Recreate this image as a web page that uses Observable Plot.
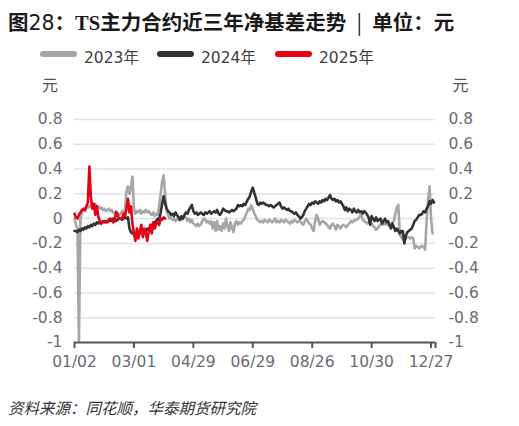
<!DOCTYPE html>
<html>
<head>
<meta charset="utf-8">
<script src="https://cdn.jsdelivr.net/npm/d3@7"></script>
<script src="https://cdn.jsdelivr.net/npm/@observablehq/plot@0.6"></script>
<style>
  html, body { margin: 0; padding: 0; background: #fff; }
  #wrap { position: relative; width: 519px; height: 426px; overflow: hidden; background: #fff; }
  #chart { position: absolute; left: 0; top: 70px; }
  #overlay { position: absolute; left: 0; top: 0; }
</style>
</head>
<body>
<div id="wrap">
  <svg id="overlay" width="519" height="426" xmlns="http://www.w3.org/2000/svg">
    <text x="8" y="29.5" font-size="20.5" font-weight="bold" fill="#1a1a1a" font-family="'Noto Sans CJK SC', 'DejaVu Sans', sans-serif">图<tspan font-weight="normal" font-family="'DejaVu Sans'">28</tspan>：<tspan font-family="'Liberation Serif', serif">TS</tspan>主力合约近三年净基差走势<tspan font-weight="normal">&#8194;|&#8194;</tspan>单位：元</text>
    <g id="legend" font-family="'DejaVu Sans', 'Noto Sans CJK SC', sans-serif" font-size="15.5" fill="#404040"></g>
    <text x="42" y="90.5" font-size="16" fill="#555" font-family="'Noto Sans CJK SC', sans-serif">元</text>
    <text x="452.5" y="90.5" font-size="16" fill="#555" font-family="'Noto Sans CJK SC', sans-serif">元</text>
    <text x="8" y="413.5" font-size="15.5" font-style="italic" fill="#333" font-family="'Noto Sans CJK SC', sans-serif">资料来源：同花顺，华泰期货研究院</text>
  </svg>
  <div id="chart"></div>
</div>
<script>
// ---- data (x = trading-day index) ----
const seriesNames = ["2023年", "2024年", "2025年"];
const seriesColors = ["#a6a6a6", "#333333", "#e60012"];

const xTickIdx = [0, 40, 80, 120, 160, 200, 240, 243];
const xTickLabels = ["01/02", "03/01", "04/29", "06/29", "08/26", "10/30", "12/27", ""];
const yTicks = [-1, -0.8, -0.6, -0.4, -0.2, 0, 0.2, 0.4, 0.6, 0.8];
const gridVals = [-0.8, -0.6, -0.4, -0.2, 0, 0.2, 0.4, 0.6, 0.8];

const y2023 = [
  0.0,-0.05,-0.08,-0.99,0.0,0.05,0.07,0.06,0.08,0.10,0.09,
  0.11,0.10,0.08,0.12,0.09,0.10,0.08,0.09,0.07,0.08,
  0.06,0.07,0.08,0.06,0.07,0.05,0.04,0.06,0.05,0.03,
  0.04,0.06,0.05,0.08,0.22,0.26,0.20,0.25,0.34,0.08,
  0.04,0.06,0.05,0.07,0.04,0.06,0.05,0.07,0.05,0.06,
  0.04,0.03,0.05,0.02,0.04,0.03,0.10,0.20,0.30,0.35,
  0.20,0.06,0.03,0.0,0.01,-0.01,0.0,-0.02,0.0,-0.01,
  0.01,-0.01,0.0,0.02,0.01,-0.02,0.0,-0.03,-0.01,-0.04,
  -0.05,-0.06,-0.04,-0.06,-0.05,-0.02,0.0,-0.01,-0.03,-0.02,
  -0.04,-0.02,-0.08,-0.03,-0.10,-0.02,-0.09,-0.06,-0.10,-0.04,
  -0.08,0.0,-0.06,-0.10,-0.03,-0.07,-0.11,-0.04,-0.02,-0.05,
  -0.03,-0.04,-0.02,-0.01,0.02,0.05,0.08,0.07,0.11,0.08,
  0.04,0.02,-0.01,-0.02,-0.03,-0.02,-0.03,-0.01,-0.02,-0.03,
  -0.01,-0.02,-0.03,-0.02,0.0,-0.03,-0.02,-0.03,-0.01,-0.02,
  -0.03,-0.01,-0.02,-0.03,-0.04,-0.02,-0.03,-0.01,-0.02,-0.03,
  -0.02,-0.02,-0.04,-0.05,-0.02,0.0,-0.02,-0.04,-0.05,-0.08,
  -0.10,-0.02,0.03,0.0,-0.05,-0.03,-0.02,-0.03,-0.04,-0.05,
  -0.07,-0.08,-0.05,-0.04,-0.06,-0.09,-0.05,-0.06,-0.08,-0.06,
  -0.05,-0.06,-0.07,-0.05,-0.04,-0.02,-0.03,-0.02,-0.01,-0.01,
  0.0,0.02,0.03,-0.01,-0.02,-0.03,-0.04,-0.03,-0.02,-0.04,
  -0.06,-0.07,-0.09,-0.08,-0.06,-0.05,-0.04,-0.05,-0.04,-0.05,
  -0.05,-0.06,-0.05,-0.03,-0.02,0.04,0.09,0.11,-0.13,-0.15,
  -0.17,-0.16,-0.16,-0.15,-0.15,-0.16,-0.15,-0.16,-0.24,-0.22,
  -0.23,-0.24,-0.23,-0.22,-0.23,-0.25,-0.02,0.15,0.26,0.0,-0.12
];

const y2024 = [
  -0.10,-0.10,-0.11,-0.09,-0.10,-0.08,-0.09,-0.07,-0.08,-0.06,-0.07,
  -0.05,-0.06,-0.04,-0.05,-0.03,-0.04,-0.03,-0.04,-0.02,-0.03,
  -0.02,-0.03,-0.01,-0.02,-0.01,0.0,-0.01,-0.02,-0.01,0.0,
  0.0,-0.01,0.0,0.01,0.0,0.01,-0.08,-0.11,-0.12,-0.11,
  -0.12,-0.12,-0.11,-0.12,-0.10,-0.11,-0.09,-0.10,-0.08,-0.09,
  -0.07,-0.05,-0.06,-0.03,-0.02,0.0,-0.01,0.05,0.12,0.18,
  0.12,0.08,0.06,0.05,0.03,0.04,0.02,0.05,0.03,0.01,
  -0.01,0.02,0.0,0.03,0.05,0.04,0.07,0.09,0.11,0.06,
  0.04,0.05,0.03,0.04,0.05,0.04,0.03,0.05,0.04,0.05,
  0.06,0.04,0.05,0.06,0.05,0.07,0.04,0.03,0.05,0.08,
  0.07,0.06,0.06,0.05,0.06,0.07,0.06,0.07,0.08,0.11,
  0.10,0.11,0.10,0.12,0.11,0.14,0.16,0.18,0.22,0.25,
  0.21,0.17,0.12,0.11,0.13,0.12,0.13,0.12,0.11,0.11,
  0.10,0.11,0.10,0.09,0.10,0.11,0.12,0.13,0.10,0.08,
  0.09,0.08,0.07,0.08,0.06,0.06,0.05,0.04,0.05,0.03,
  0.02,0.0,0.01,0.03,0.06,0.08,0.10,0.12,0.11,0.13,
  0.12,0.14,0.13,0.12,0.14,0.13,0.15,0.14,0.16,0.15,
  0.17,0.19,0.16,0.15,0.16,0.14,0.15,0.13,0.14,0.12,
  0.10,0.07,0.09,0.06,0.08,0.07,0.05,0.08,0.06,0.05,
  0.07,0.05,0.06,0.04,0.06,0.05,0.03,0.01,-0.05,0.02,
  0.0,-0.02,0.01,-0.02,-0.01,0.0,-0.04,-0.02,0.0,-0.03,
  -0.02,-0.05,-0.08,-0.04,-0.07,-0.10,-0.08,-0.10,-0.12,-0.10,
  -0.10,-0.20,-0.14,-0.11,-0.10,-0.09,-0.08,-0.05,-0.02,-0.01,
  0.01,0.03,0.03,0.04,0.06,0.05,0.08,0.10,0.14,0.12,0.15,0.13
];

const y2025 = [
  0.04,0.01,0.0,0.03,0.05,0.07,0.08,0.07,0.10,0.13,0.42,
  0.18,0.08,0.12,0.03,0.10,0.02,-0.02,-0.04,-0.03,-0.02,
  -0.03,-0.02,-0.02,0.0,-0.01,-0.03,-0.02,0.05,0.03,0.0,
  0.0,0.0,0.04,0.02,0.08,0.16,0.05,0.10,-0.04,-0.12,
  -0.18,-0.08,-0.16,-0.10,-0.05,-0.15,-0.08,-0.12,-0.18,-0.10,
  -0.05,-0.12,-0.03,-0.08,-0.04,-0.03,-0.05,0.0,-0.01,0.01,0.0
];

// ---- build tables ----
const toRows = arr => arr.map((v, i) => ({i, v}));
const d2023 = toRows(y2023), d2024 = toRows(y2024), d2025 = toRows(y2025);
const fmt = d => String(Math.round(d * 10) / 10);
const xLabel = new Map(xTickIdx.map((d, k) => [d, xTickLabels[k]]));

const chart = Plot.plot({
  width: 519,
  height: 310,
  marginLeft: 74,
  marginRight: 84,
  marginTop: 49,
  marginBottom: 38,
  style: {fontFamily: "'DejaVu Sans', sans-serif", fontSize: "15.5px", color: "#6b6b73", background: "transparent", overflow: "visible"},
  x: {domain: [0, 243], axis: null},
  y: {domain: [-1, 0.8], axis: null},
  marks: [
    Plot.ruleY(gridVals, {stroke: "#dde2ec", strokeWidth: 1.5}),
    Plot.axisY({anchor: "left", ticks: yTicks, tickSize: 0, tickPadding: 12, tickFormat: fmt, fill: "#6b6b73", label: null}),
    Plot.axisY({anchor: "right", ticks: yTicks, tickSize: 0, tickPadding: 13, tickFormat: fmt, fill: "#6b6b73", label: null}),
    Plot.line(d2023, {x: "i", y: "v", stroke: seriesColors[0], strokeWidth: 2.6}),
    Plot.line(d2024, {x: "i", y: "v", stroke: seriesColors[1], strokeWidth: 2.6}),
    Plot.line(d2025, {x: "i", y: "v", stroke: seriesColors[2], strokeWidth: 2.6}),
    Plot.ruleY([-1], {stroke: "#555", strokeWidth: 2}),
    Plot.axisX({ticks: xTickIdx, tickFormat: d => xLabel.get(d) ?? "", tickSize: 6, tickPadding: 7, stroke: "#555", strokeWidth: 2, fill: "#6b6b73", label: null})
  ]
});
document.getElementById("chart").appendChild(chart);

// ---- legend ----
const legend = d3.select("#legend");
const legendX = [40, 157, 275];
seriesNames.forEach((name, k) => {
  legend.append("line")
    .attr("x1", legendX[k] + 3).attr("x2", legendX[k] + 34)
    .attr("y1", 54).attr("y2", 54)
    .attr("stroke", seriesColors[k]).attr("stroke-width", 6).attr("stroke-linecap", "round");
  legend.append("text").attr("x", legendX[k] + 44).attr("y", 63.3).text(name);
});
</script>
</body>
</html>
